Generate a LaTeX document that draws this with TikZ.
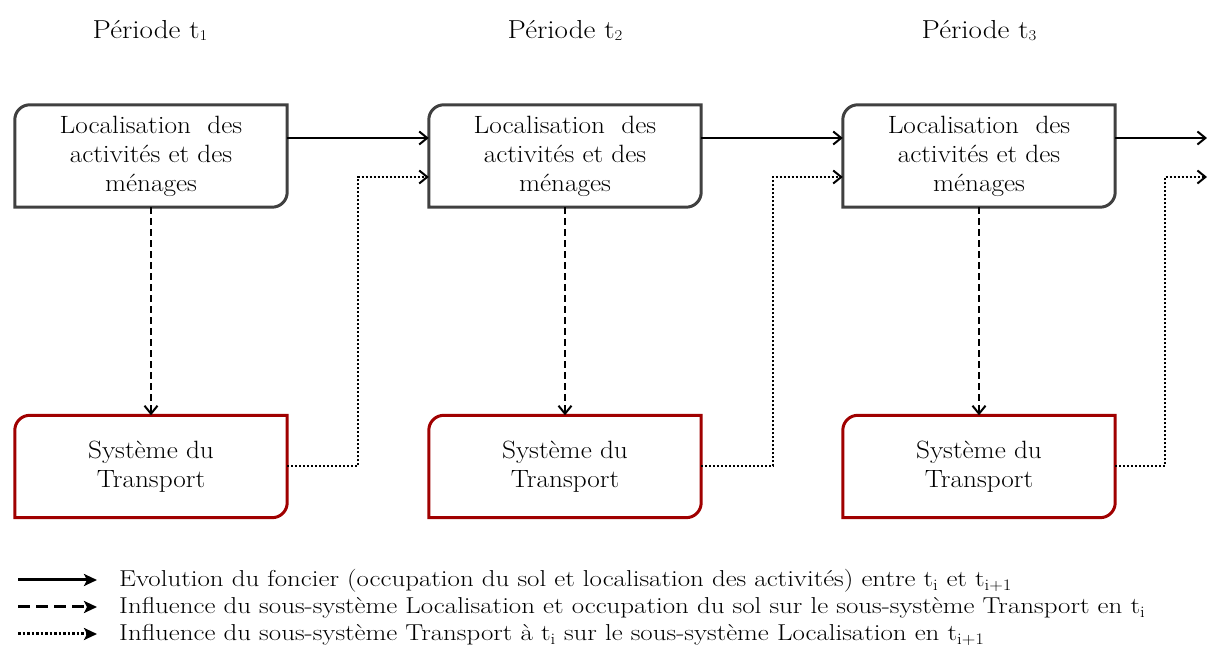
\documentclass[tikz,border=0pt]{standalone}
\usetikzlibrary{arrows.meta}
\definecolor{boxgray}{HTML}{404040}
\definecolor{boxred}{HTML}{A00000}
\newcommand{\wide}[2]{\scalebox{#1}[1]{#2}}
\newcommand{\bw}[1]{\wide{1.09}{#1}}
\newcommand{\lw}[1]{\wide{1.17}{#1}}
\tikzset{
 txt/.style={align=center, font=\fontsize{25}{29}\selectfont, inner sep=0pt},
 lbox/.style={txt, minimum width=272pt, minimum height=102pt},
 gborder/.style={line width=3pt, draw=boxgray},
 rborder/.style={line width=3pt, draw=boxred},
 conn/.style={line width=2pt, -{Straight Barb[length=8pt,width=13pt,line width=2pt]}},
 solidc/.style={conn},
 dashc/.style={conn, dash pattern=on 7pt off 4pt},
 dotc/.style={conn, dash pattern=on 2pt off 2pt},
 legarrow/.style={line width=3pt, -{Stealth[length=13pt,width=12pt,inset=3pt]}},
 legtxt/.style={anchor=base west, inner sep=0pt, font=\fontsize{23}{27}\selectfont},
 title/.style={anchor=base, inner sep=0pt, font=\fontsize{26}{30}\selectfont},
}
\newcommand{\roundbox}[2]{\draw[#2] (#1.south west) -- ([yshift=-15pt]#1.north west) arc[start angle=180,end angle=90,radius=15pt] -- (#1.north east) -- ([yshift=15pt]#1.south east) arc[start angle=0,end angle=-90,radius=15pt] -- cycle;}
\newcommand{\sbt}[1]{\raisebox{-1.5pt}{\fontsize{15}{15}\selectfont #1}}
\begin{document}
\begin{tikzpicture}[x=1pt,y=1pt]
\useasboundingbox (0,0) rectangle (1207,650);
% titles
\node[title] (p1) at (150,611) {\wide{1.12}{Période t\sbt{1}}};
\node[title] (p2) at (565,611) {\wide{1.12}{Période t\sbt{2}}};
\node[title] (p3) at (979,611) {\wide{1.12}{Période t\sbt{3}}};
% boxes
\foreach \n/\x in {1/151,2/565,3/979}{
  \node[lbox] (l\n) at (\x,494) {\bw{Localisation~ des}\\\bw{activités et des}\\\bw{ménages}};
  \node[lbox] (s\n) at (\x,183.5) {\bw{Système du}\\\bw{Transport}};
  \roundbox{l\n}{gborder}
  \roundbox{s\n}{rborder}
}
\coordinate (e1) at (1207,512);
\coordinate (e2) at (1207,473);
% solid
\draw[solidc] ([yshift=18pt]l1.east) -- ([yshift=18pt]l2.west);
\draw[solidc] ([yshift=18pt]l2.east) -- ([yshift=18pt]l3.west);
\draw[solidc] ([yshift=18pt]l3.east) -- (e1);
% dashed
\draw[dashc] (l1.south) -- (s1.north);
\draw[dashc] (l2.south) -- (s2.north);
\draw[dashc] (l3.south) -- (s3.north);
% dotted
\draw[dotc] (s1.east) -- ++(71,0) |- ([yshift=-21pt]l2.west);
\draw[dotc] (s2.east) -- ++(72,0) |- ([yshift=-21pt]l3.west);
\draw[dotc] (s3.east) -- ++(50,0) |- (e2);
% legend
\coordinate (a1) at (18,70); \coordinate (b1) at (97,70);
\coordinate (a2) at (18,43); \coordinate (b2) at (97,43);
\coordinate (a3) at (18,16); \coordinate (b3) at (97,16);
\draw[legarrow] (a1) -- (b1);
\draw[legarrow, dash pattern=on 12pt off 6pt] (a2) -- (b2);
\draw[legarrow, dash pattern=on 2.5pt off 2pt] (a3) -- (b3);
\node[legtxt] (t1) at (119,63) {\lw{Evolution du foncier (occupation du sol et localisation des activités) entre t\textsubscript{i} et t\textsubscript{i+1}}};
\node[legtxt] (t2) at (119,36) {\lw{Influence du sous-système Localisation et occupation du sol sur le sous-système Transport en t\textsubscript{i}}};
\node[legtxt] (t3) at (119,9) {\lw{Influence du sous-système Transport à t\textsubscript{i} sur le sous-système Localisation en t\textsubscript{i+1}}};
\end{tikzpicture}
\end{document}
